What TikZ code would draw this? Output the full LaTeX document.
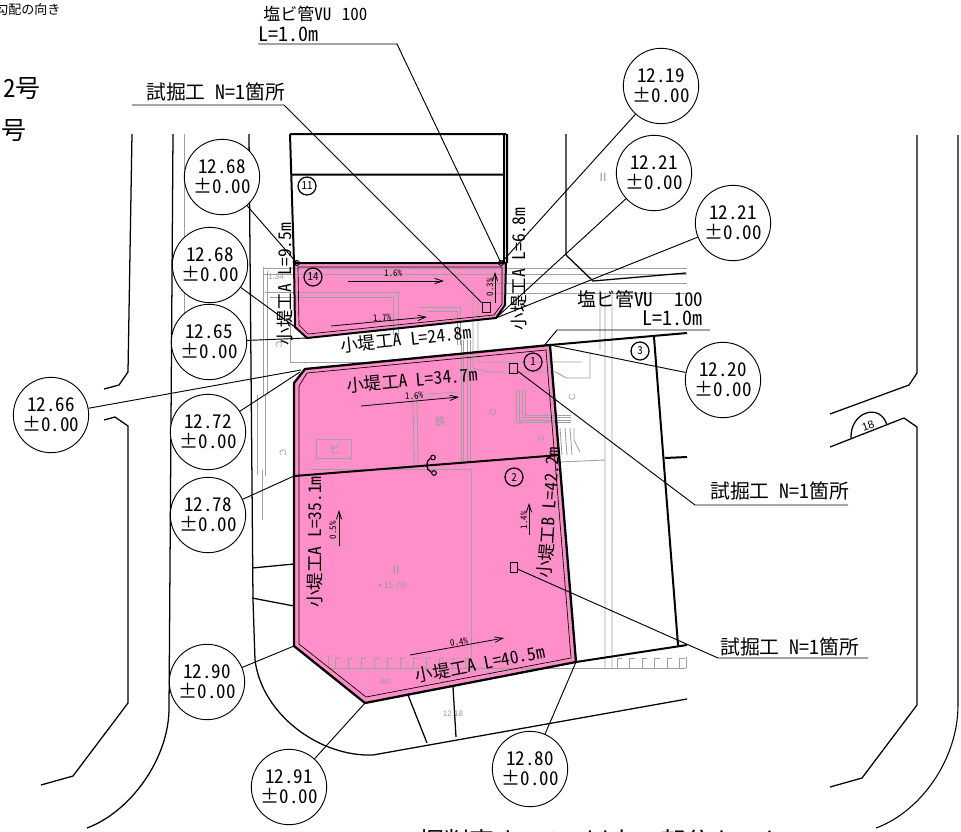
\documentclass[tikz,border=0pt]{standalone}
\usepackage{fontspec}
\setmainfont{Liberation Sans}
\newfontfamily\jph[CharacterWidth=Half]{Noto Sans CJK JP}
\newfontfamily\jpf{Noto Sans CJK JP}
\newcommand{\fsz}[1]{\fontsize{\dimexpr#1pt*3/4\relax}{\dimexpr#1pt*9/10\relax}\selectfont}
\definecolor{pinkfill}{HTML}{FF8FC8}
\definecolor{gline}{HTML}{A0A0A0}
\definecolor{gtext}{HTML}{9A9A9A}
\usetikzlibrary{arrows.meta}
\tikzset{
 thick line/.style={line width=1.5pt,black},
 road/.style={line width=0.95pt,black},
 leader/.style={line width=0.7pt,black},
 gray line/.style={line width=0.65pt,gline},
 inner line/.style={line width=0.5pt,black},
 level/.style={circle,draw=black,line width=0.7pt,fill=white,minimum size=56.5pt,inner sep=0pt,align=center,font=\jph\fsz{19}},
 num/.style={circle,draw=black,line width=0.95pt,fill=none,minimum size=13.5pt,inner sep=0pt,font=\jph\fsz{11}},
 lab/.style={inner sep=0pt,font=\jph\fsz{17.5},black},
 slab/.style={inner sep=0pt,font=\jph\fsz{9},black},
 gt/.style={inner sep=0pt,font=\fsz{9},gtext},
 slope/.style={line width=0.6pt,black,-{Straight Barb[length=6pt,width=4pt]}},
}
\newcommand{\lv}[1]{#1\\[-2pt]±0.00}
\begin{document}
\begin{tikzpicture}[x=0.75pt,y=-0.75pt]
\useasboundingbox (0,0) rectangle (961,832);
\clip (0,0) rectangle (961,832);
% corners
\coordinate (at) at (294,263);
\coordinate (bt) at (506,263);
\coordinate (ct) at (505,305);
\coordinate (dt) at (496,318);
\coordinate (et) at (307,338);
\coordinate (ft) at (295,327);
\coordinate (pa) at (305,369);
\coordinate (pb) at (550,345);
\coordinate (pc) at (576,662);
\coordinate (pd) at (365,703);
\coordinate (pe) at (294,646);
\coordinate (pf) at (294,383);
\coordinate (ma) at (294,476);
\coordinate (mb) at (560,455);
% pink
\fill[pinkfill] (at)--(bt)--(ct)--(dt)--(et)--(ft)--cycle;
\fill[pinkfill] (pa)--(pb)--(pc)--(pd)--(pe)--(pf)--cycle;
% gray background
\begin{scope}[gray line]
 \draw (263,268)--(687,268) (263,274)--(687,274) (494,283)--(687,283) (494,293)--(687,293);
 \draw (263,267)--(263,395) (267,271)--(267,395) (265,395)--(265,476) (257,395)--(257,475);
 \draw (265,292)--(398,292)--(398,340) (270,297)--(393,297)--(393,335) (290,292)--(290,362)--(370,362);
 \draw (420,307)--(460,307)--(460,345) (427,311)--(457,311)--(457,345);
 \draw (473,292)--(473,368)--(488,372)--(556,372)--(566,378)--(590,378)--(590,352) (478,297)--(478,362)--(555,362)--(582,362);
 \draw (461,340)--(461,462) (463,340)--(463,462) (467,340)--(467,462) (470,340)--(470,462);
 \draw (413,395)--(414,465) (417,395)--(418,465) (413,395)--(458,392);
 \draw (310,469)--(471,469)--(471,668);
 \draw (316,439) rectangle (351,458);
 \draw (516,390)--(516,422)--(571,422) (519,390)--(519,420)--(571,420) (522,390)--(522,417)--(571,417) (525,390)--(525,415)--(571,415);
 \draw (560,428)--(562,455) (565,428)--(567,455) (570,428)--(572,455) (574,428)--(574,440)--(580,452);
 \draw (605,292)--(605,668) (612,292)--(612,668) (560,462)--(605,460) (600,290)--(600,350);
 \draw (330,668)--(686,668) (328,655)--(328,668);
 \foreach \i in {0,...,10} {\draw ({335+\i*13},658)--({335+\i*13},668) ({335+\i*13},658)--({340+\i*13},658);}
 \foreach \i in {0,...,5} {\draw ({617+\i*12.5},658)--({617+\i*12.5},668) ({617+\i*12.5},658)--({622+\i*12.5},658);}
 \draw (686,657)--(686,668);
 \draw (184,134)--(184,330);
 \draw (262,470)--(262,520);
\end{scope}
% gray texts
\node[gt,rotate=-90] (g1) at (283,453) {C};
\node[gt,rotate=-90] (g2) at (279,345) {C};
\node[gt,rotate=90] (g3) at (493,412) {C};
\node[gt,rotate=90] (g4) at (572,397) {C};
\node[gt,rotate=90] (g5) at (541,438) {C};
\node[gt,font=\jpf\fsz{11}] (g6) at (335,449) {ビ};
\node[gt,font=\jpf\fsz{11}] (g7) at (440,421) {鉄};
\node[gt,font=\fsz{12}] (g8) at (396,570) {II};
\node[gt] (g9) at (392,585) {• 11.70};
\node[gt,font=\fsz{8}] (g10) at (453,714) {12.18};
\node[gt,font=\fsz{9}] (g11) at (385,682) {as};
\node[gt,font=\fsz{8}] (g12) at (211,482) {As};
\node[gt,font=\fsz{12}] (g13) at (603,177) {II};
\node[gt,font=\fsz{8}] (g14) at (276,277) {1.34};
% pink inner outlines
\draw[inner line] (298,267)--(502,267)--(502,304)--(494,315)--(308,334)--(299,325)--cycle;
\draw[inner line] (307,373)--(546,350)--(571,658)--(366,697)--(299,644)--(299,386)--cycle;
% buildings and roads
\draw[thick line] (290,134)--(506,134) (291,174.5)--(505,174.5) (290,134)--(294,263) (504,134)--(504,263) (507,134)--(507,263);
\draw[thick line] (at)--(bt)--(ct)--(dt)--(et)--(ft)--cycle;
\draw[thick line,line width=1.7pt] (pa)--(pb)--(pc)--(pd)--(pe)--(pf)--cycle;
\draw[thick line] (ma)--(mb);
\draw[thick line] (pb)--(687,333) (pc)--(687,645) (654,337)--(678,645) (665,458)--(687,457);
\draw[road] (132,134)--(128,372)--(119,385)--(104,389);
\draw[road] (104,420)--(115,417)--(128,426)--(128,703)--(73,776)--(41,785);
\draw[road] (173,134)--(169,710) .. controls (168,760) and (130,812) .. (87,828);
\draw[road] (249,134)--(253,600)--(255,660) .. controls (262,715) and (320,757) .. (373,755)--(687,699);
\draw[road] (252,568)--(294,564) (252,598)--(294,606);
\draw[road] (408,695)--(427,743) (453,687)--(456,737);
\draw[road] (566,134)--(566,255)--(593,281)--(686,273);
\draw[road] (917,135)--(917,373)--(909,385)--(830,414);
\draw[road] (830,447)--(904,418)--(917,427)--(917,705)--(862,778)--(830,787);
\draw[road] (851,438) .. controls (850,412) and (880,402) .. (887,425);
\node[inner sep=0pt,font=\fsz{11},rotate=20] (n18) at (868,426) {18};
\draw[road,line width=0.8pt] (958,135)--(958,705) .. controls (958,760) and (920,812) .. (876,828);
% cut mark
\node[circle,draw,line width=0.8pt,minimum size=3.5pt,inner sep=0pt] (cu) at (433,457.5) {};
\node[circle,draw,line width=0.8pt,minimum size=3.5pt,inner sep=0pt] (cl) at (434,473) {};
\draw[line width=1pt] (cu) .. controls (426,460) and (425,470) .. (cl);
% test pits
\node[draw=black,line width=0.6pt,minimum width=6pt,minimum height=7.5pt,inner sep=0pt] (pit1) at (486,307) {};
\node[draw=black,line width=0.6pt,minimum width=5.5pt,minimum height=7.5pt,inner sep=0pt] (pit2) at (513.5,368) {};
\node[draw=black,line width=0.6pt,minimum width=5.5pt,minimum height=8pt,inner sep=0pt] (pit3) at (514,567.5) {};
% circled numbers
\node[num] (n11) at (307,186) {11};
\node[num] (n14) at (313,277) {14};
\node[num] (n1) at (533,362) {1};
\node[num] (n2) at (514,477) {2};
\node[num] (n3) at (640,351) {3};
% level circles
\node[level] (c1) at (661,86) {\lv{12.19}};
\node[level] (c2) at (654,173) {\lv{12.21}};
\node[level] (c3) at (733,223) {\lv{12.21}};
\node[level] (c4) at (222,177) {\lv{12.68}};
\node[level] (c5) at (210,265) {\lv{12.68}};
\node[level] (c6) at (209,342) {\lv{12.65}};
\node[level] (c7) at (51,415) {\lv{12.66}};
\node[level] (c8) at (208,432) {\lv{12.72}};
\node[level] (c9) at (208,515) {\lv{12.78}};
\node[level] (c10) at (207,682) {\lv{12.90}};
\node[level] (c11) at (289,787) {\lv{12.91}};
\node[level] (c12) at (530,769) {\lv{12.80}};
\node[level] (c13) at (723,380) {\lv{12.20}};
% level leaders
\coordinate (tr) at (501,263);
\coordinate (tl) at (297,263);
\coordinate (lk7) at (301,370);
\coordinate (lk8) at (300,372);
\draw[leader] (c1)--(tr);
\draw[leader] (c2)--(dt);
\draw[leader] (c3)--(dt);
\draw[leader] (c4)--(tl);
\draw[leader] (c5)--(ft);
\draw[leader] (c6)--(et);
\draw[leader] (c7)--(lk7);
\draw[leader] (c8)--(lk8);
\draw[leader] (c9)--(ma);
\draw[leader] (c10)--(pe);
\draw[leader] (c11)--(pd);
\draw[leader] (c12)--(pc);
\draw[leader] (c13)--(pb);
\foreach \p in {tr,tl} {\draw[line width=.7pt] (\p) circle[radius=2.5];}
% callouts
\coordinate (k1a) at (258,44); \coordinate (k1b) at (397,44);
\coordinate (k2a) at (132,105); \coordinate (k2b) at (284,105);
\coordinate (k3a) at (710,330); \coordinate (k3b) at (557,330); \coordinate (k3c) at (543,347);
\coordinate (k4a) at (848,505); \coordinate (k4b) at (695,505);
\coordinate (k5a) at (868,658); \coordinate (k5b) at (718,658);
\draw[leader] (k1a)--(k1b)--(tr);
\draw[leader] (k2a)--(k2b)--(pit1);
\draw[leader] (k3a)--(k3b)--(k3c);
\draw[leader] (k4a)--(k4b)--(pit2);
\draw[leader] (k5a)--(k5b)--(pit3);
\node[lab,anchor=base west,font=\jph\fsz{17}] (t1) at (263,20) {塩{\jpf ビ}管VU\kern 8pt 100};
\node[lab,anchor=base west,font=\jph\fsz{20}] (t2) at (258,41) {L=1.0m};
\node[lab,anchor=base west,font=\jph\fsz{19.8}] (t3) at (146,99) {試掘工 N=1箇所};
\node[lab,anchor=base west,font=\jph\fsz{19}] (t4) at (577,306) {塩{\jpf ビ}管VU\kern 16pt 100};
\node[lab,anchor=base east,font=\jph\fsz{20}] (t5) at (703,325) {L=1.0m};
\node[lab,anchor=base west,font=\jph\fsz{19.8}] (t6) at (710,498) {試掘工 N=1箇所};
\node[lab,anchor=base west,font=\jph\fsz{19.8}] (t7) at (720,654) {試掘工 N=1箇所};
% length labels
\node[lab,rotate=90] (l1) at (285,284) {小堤工A L=9.5m};
\node[lab,rotate=90] (l2) at (519,269) {小堤工A L=6.8m};
\node[lab,rotate=6] (l3) at (406,339) {小堤工A L=24.8m};
\node[lab,rotate=5] (l4) at (412,380) {小堤工A L=34.7m};
\node[lab,rotate=90] (l5) at (315,542) {小堤工A L=35.1m};
\node[lab,rotate=86] (l6) at (549,513) {小堤工B L=42.2m};
\node[lab,rotate=11] (l7) at (480,664) {小堤工A L=40.5m};
% slopes
\coordinate (s1a) at (348,281); \coordinate (s1b) at (444,281);
\coordinate (s2a) at (331,326); \coordinate (s2b) at (427,317);
\coordinate (s3a) at (495,303); \coordinate (s3b) at (495,272);
\coordinate (s4a) at (361,406); \coordinate (s4b) at (459,397);
\coordinate (s5a) at (339,546); \coordinate (s5b) at (339,510);
\coordinate (s6a) at (529,535); \coordinate (s6b) at (529,503);
\coordinate (s7a) at (410,655); \coordinate (s7b) at (504,638);
\draw[slope] (s1a)--(s1b);
\draw[slope] (s2a)--(s2b);
\draw[slope] (s3a)--(s3b);
\draw[slope] (s4a)--(s4b);
\draw[slope] (s5a)--(s5b);
\draw[slope] (s6a)--(s6b);
\draw[slope] (s7a)--(s7b);
\node[slab] (p1) at (393,273) {1.6\%};
\node[slab,rotate=5] (p2) at (382,318) {1.7\%};
\node[slab,rotate=90] (p3) at (490,287) {0.3\%};
\node[slab,rotate=5] (p4) at (414,396) {1.6\%};
\node[slab,rotate=90] (p5) at (333,530) {0.5\%};
\node[slab,rotate=90] (p6) at (524,520) {1.4\%};
\node[slab,rotate=10] (p7) at (459,642) {0.4\%};
% clipped sheet texts
\node[inner sep=0pt,anchor=base west,font=\jpf\fsz{13}] (b1) at (-5,14) {勾配の向き};
\node[inner sep=0pt,anchor=base west,font=\jph\fsz{25}] (b2) at (3,97) {2号};
\node[inner sep=0pt,anchor=base west,font=\jph\fsz{25}] (b3) at (1,139) {号};
\node[inner sep=0pt,anchor=base west,font=\jph\fsz{25}] (b4) at (419,850) {掘削高さ\kern 12pt 40cm以上の部分カット};
\end{tikzpicture}
\end{document}
